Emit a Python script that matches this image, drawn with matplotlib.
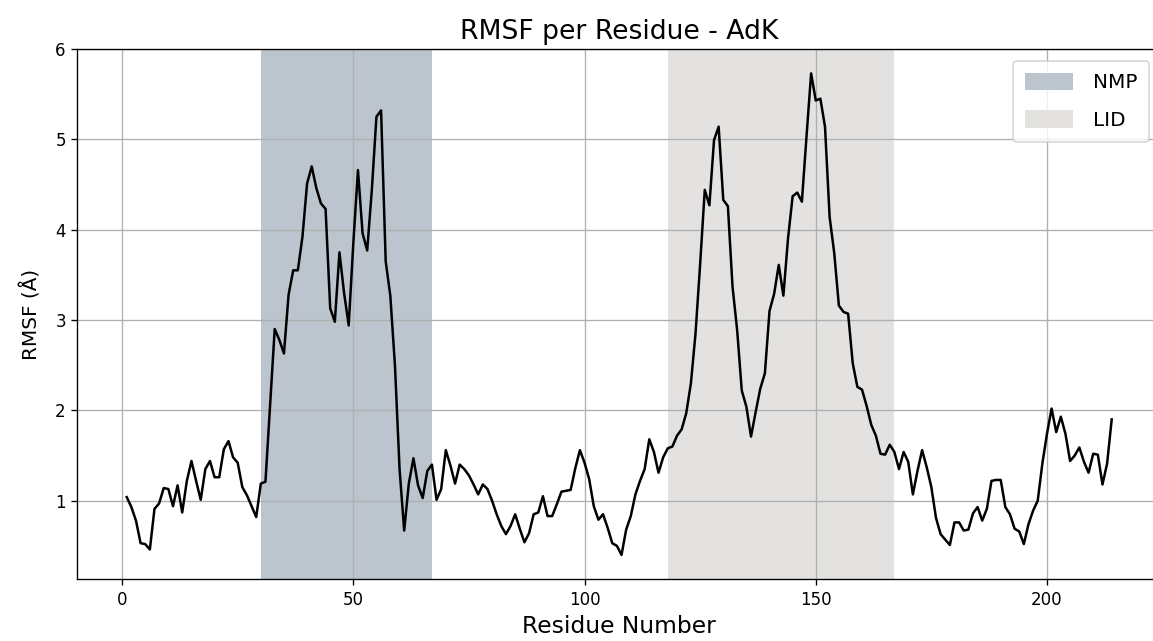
import matplotlib
matplotlib.use("Agg")
import matplotlib.pyplot as plt
import numpy as np

# per-residue RMSF for adenylate kinase (residues 1..214)
residues = np.arange(1, 215)
rmsf = [
    1.04, 0.93, 0.78, 0.53, 0.52, 0.46, 0.91, 0.97, 1.14, 1.13,   # 1-10
    0.94, 1.17, 0.87, 1.22, 1.44, 1.22, 1.01, 1.35, 1.44, 1.26,   # 11-20
    1.26, 1.57, 1.66, 1.48, 1.42, 1.15, 1.06, 0.94, 0.82, 1.19,   # 21-30
    1.21, 2.05, 2.90, 2.78, 2.63, 3.28, 3.55, 3.55, 3.92, 4.51,   # 31-40
    4.70, 4.46, 4.29, 4.23, 3.13, 2.98, 3.75, 3.30, 2.94, 3.85,   # 41-50
    4.66, 3.96, 3.77, 4.44, 5.25, 5.32, 3.65, 3.27, 2.50, 1.35,   # 51-60
    0.67, 1.19, 1.47, 1.17, 1.03, 1.33, 1.40, 1.01, 1.13, 1.56,   # 61-70
    1.39, 1.19, 1.40, 1.35, 1.28, 1.18, 1.07, 1.18, 1.13, 1.00,   # 71-80
    0.85, 0.72, 0.63, 0.72, 0.85, 0.69, 0.54, 0.64, 0.85, 0.87,   # 81-90
    1.05, 0.83, 0.83, 0.96, 1.10, 1.11, 1.12, 1.36, 1.56, 1.42,   # 91-100
    1.24, 0.94, 0.79, 0.85, 0.70, 0.53, 0.50, 0.40, 0.68, 0.83,   # 101-110
    1.07, 1.22, 1.35, 1.68, 1.54, 1.31, 1.48, 1.58, 1.60, 1.72,   # 111-120
    1.79, 1.97, 2.30, 2.85, 3.62, 4.44, 4.27, 4.99, 5.14, 4.33,   # 121-130
    4.26, 3.37, 2.89, 2.22, 2.04, 1.71, 1.98, 2.24, 2.41, 3.10,   # 131-140
    3.29, 3.61, 3.27, 3.90, 4.37, 4.41, 4.31, 5.03, 5.73, 5.43,   # 141-150
    5.45, 5.14, 4.14, 3.74, 3.16, 3.09, 3.07, 2.52, 2.26, 2.23,   # 151-160
    2.05, 1.84, 1.72, 1.52, 1.51, 1.62, 1.54, 1.35, 1.54, 1.43,   # 161-170
    1.07, 1.33, 1.56, 1.37, 1.15, 0.81, 0.63, 0.57, 0.51, 0.76,   # 171-180
    0.76, 0.67, 0.68, 0.86, 0.93, 0.78, 0.91, 1.22, 1.23, 1.23,   # 181-190
    0.93, 0.85, 0.69, 0.66, 0.52, 0.74, 0.89, 1.00, 1.41, 1.74,   # 191-200
    2.02, 1.76, 1.93, 1.74, 1.44, 1.50, 1.59, 1.43, 1.31, 1.52,   # 201-210
    1.51, 1.18, 1.41, 1.90,                                       # 211-214
]

# domain boundaries
domains = ["NMP", "LID"]
domain_start = [30, 118]
domain_end = [67, 167]
domain_colors = ["#bcc5cd", "#e4e2e0"]

fig = plt.figure(figsize=(1153 / 120, 641 / 120), dpi=120)
ax = fig.add_axes([0.0672, 0.0967, 0.9397, 0.8269])

for name, s, e, c in zip(domains, domain_start, domain_end, domain_colors):
    ax.axvspan(s, e, color=c, label=name, lw=0)

ax.plot(residues, rmsf, color="black", lw=1.5)
ax.set_ylim(top=6)
ax.grid(True)

ax.set_title("RMSF per Residue - AdK", fontsize=16)
ax.set_xlabel("Residue Number", fontsize=14)
ax.set_ylabel("RMSF (Å)", fontsize=12, labelpad=8)
ax.legend(loc="upper right", fontsize=12, handlelength=2.4, handleheight=0.95,
          handletextpad=1.0, labelspacing=0.9, borderpad=0.6, borderaxespad=0.6)

fig.savefig("out.png", dpi=120)
